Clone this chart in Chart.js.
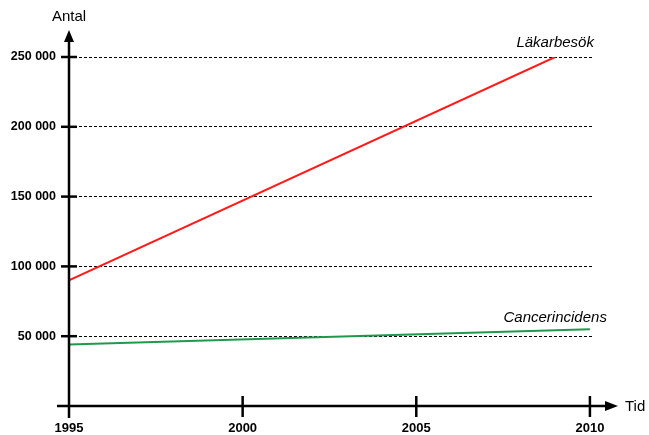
<!DOCTYPE html>
<html>
<head>
<meta charset="utf-8">
<script src="https://cdn.jsdelivr.net/npm/chart.js@4/dist/chart.umd.min.js"></script>
<style>
  html, body { margin: 0; padding: 0; background: #fff; }
  canvas { display: block; }
</style>
</head>
<body>
<canvas id="chart" width="649" height="435"></canvas>
<script>
// data
const lakarYears = [1995, 2009];
const lakarValues = [90000, 250000];
const cancerYears = [1995, 2010];
const cancerValues = [44000, 55000];
const xTicks = [1995, 2000, 2005, 2010];
const yTicks = [0, 50000, 100000, 150000, 200000, 250000];

const seriesLabels = ["Läkarbesök", "Cancerincidens"];

const FONT = "'Liberation Sans', Arial, sans-serif";

function fmt(v) {
  return String(v).replace(/\B(?=(\d{3})+(?!\d))/g, " ");
}

// axes with arrows, tick crosses, axis titles and line labels
const axisPlugin = {
  id: "axisArrows",
  afterDatasetsDraw(chart) {
    const { ctx, chartArea, scales: { x, y } } = chart;
    const x0 = chartArea.left;
    const y0 = chartArea.bottom;
    ctx.save();
    ctx.strokeStyle = "#000";
    ctx.fillStyle = "#000";
    ctx.lineWidth = 2.5;

    // y axis
    ctx.beginPath();
    ctx.moveTo(x0, y0 + 12);
    ctx.lineTo(x0, 40);
    ctx.stroke();
    ctx.beginPath();
    ctx.moveTo(x0 - 5, 42);
    ctx.lineTo(x0, 30);
    ctx.lineTo(x0 + 5, 42);
    ctx.closePath();
    ctx.fill();

    // x axis
    ctx.beginPath();
    ctx.moveTo(x0 - 12, y0);
    ctx.lineTo(607, y0);
    ctx.stroke();
    ctx.beginPath();
    ctx.moveTo(605, y0 - 5);
    ctx.lineTo(618, y0);
    ctx.lineTo(605, y0 + 5);
    ctx.closePath();
    ctx.fill();

    // tick crosses
    yTicks.slice(1).forEach(v => {
      const py = y.getPixelForValue(v);
      ctx.beginPath();
      ctx.moveTo(x0 - 8, py);
      ctx.lineTo(x0 + 8, py);
      ctx.stroke();
    });
    xTicks.slice(1).forEach(v => {
      const px = x.getPixelForValue(v);
      ctx.beginPath();
      ctx.moveTo(px, y0 - 10);
      ctx.lineTo(px, y0 + 11);
      ctx.stroke();
    });

    // axis titles
    ctx.font = "15px " + FONT;
    ctx.textBaseline = "middle";
    ctx.textAlign = "center";
    ctx.fillText("Antal", x0, 17);
    ctx.textAlign = "left";
    ctx.fillText("Tid", 625, y0 + 1);

    // series labels
    ctx.font = "italic 15px " + FONT;
    ctx.textAlign = "center";
    ctx.fillText(seriesLabels[0], x.getPixelForValue(2009), y.getPixelForValue(260000));
    ctx.fillText(seriesLabels[1], x.getPixelForValue(2009), y.getPixelForValue(63500));
    ctx.restore();
  }
};

new Chart(document.getElementById("chart"), {
  type: "line",
  data: {
    datasets: [
      {
        label: seriesLabels[0],
        data: lakarYears.map((yr, i) => ({ x: yr, y: lakarValues[i] })),
        borderColor: "#ff1a1a",
        borderWidth: 2,
        pointRadius: 0,
        fill: false
      },
      {
        label: seriesLabels[1],
        data: cancerYears.map((yr, i) => ({ x: yr, y: cancerValues[i] })),
        borderColor: "#1f9a4c",
        borderWidth: 2,
        pointRadius: 0,
        fill: false
      }
    ]
  },
  options: {
    responsive: false,
    animation: false,
    layout: { padding: { top: 57, right: 57, left: 0, bottom: 0 } },
    plugins: {
      legend: { display: false },
      tooltip: { enabled: false }
    },
    scales: {
      x: {
        type: "linear",
        min: 1995,
        max: 2010.06,
        afterBuildTicks: s => { s.ticks = xTicks.map(v => ({ value: v })); },
        afterFit: s => { s.height = 29; },
        grid: { display: false, drawTicks: false },
        border: { display: false },
        ticks: {
          color: "#000",
          padding: 15,
          maxRotation: 0,
          font: { family: FONT, size: 13, weight: "bold" },
          callback: v => String(v)
        }
      },
      y: {
        type: "linear",
        min: 0,
        max: 250000,
        afterBuildTicks: s => { s.ticks = yTicks.map(v => ({ value: v })); },
        afterFit: s => { s.width = 69; },
        grid: {
          drawTicks: false,
          color: c => c.tick && c.tick.value === 0 ? "rgba(0,0,0,0)" : "#000",
          lineWidth: 1
        },
        border: { display: false, dash: [3, 2] },
        ticks: {
          color: "#000",
          padding: 13,
          font: { family: FONT, size: 12.5, weight: "bold" },
          callback: v => v === 0 ? "" : fmt(v)
        }
      }
    }
  },
  plugins: [axisPlugin]
});
</script>
</body>
</html>
